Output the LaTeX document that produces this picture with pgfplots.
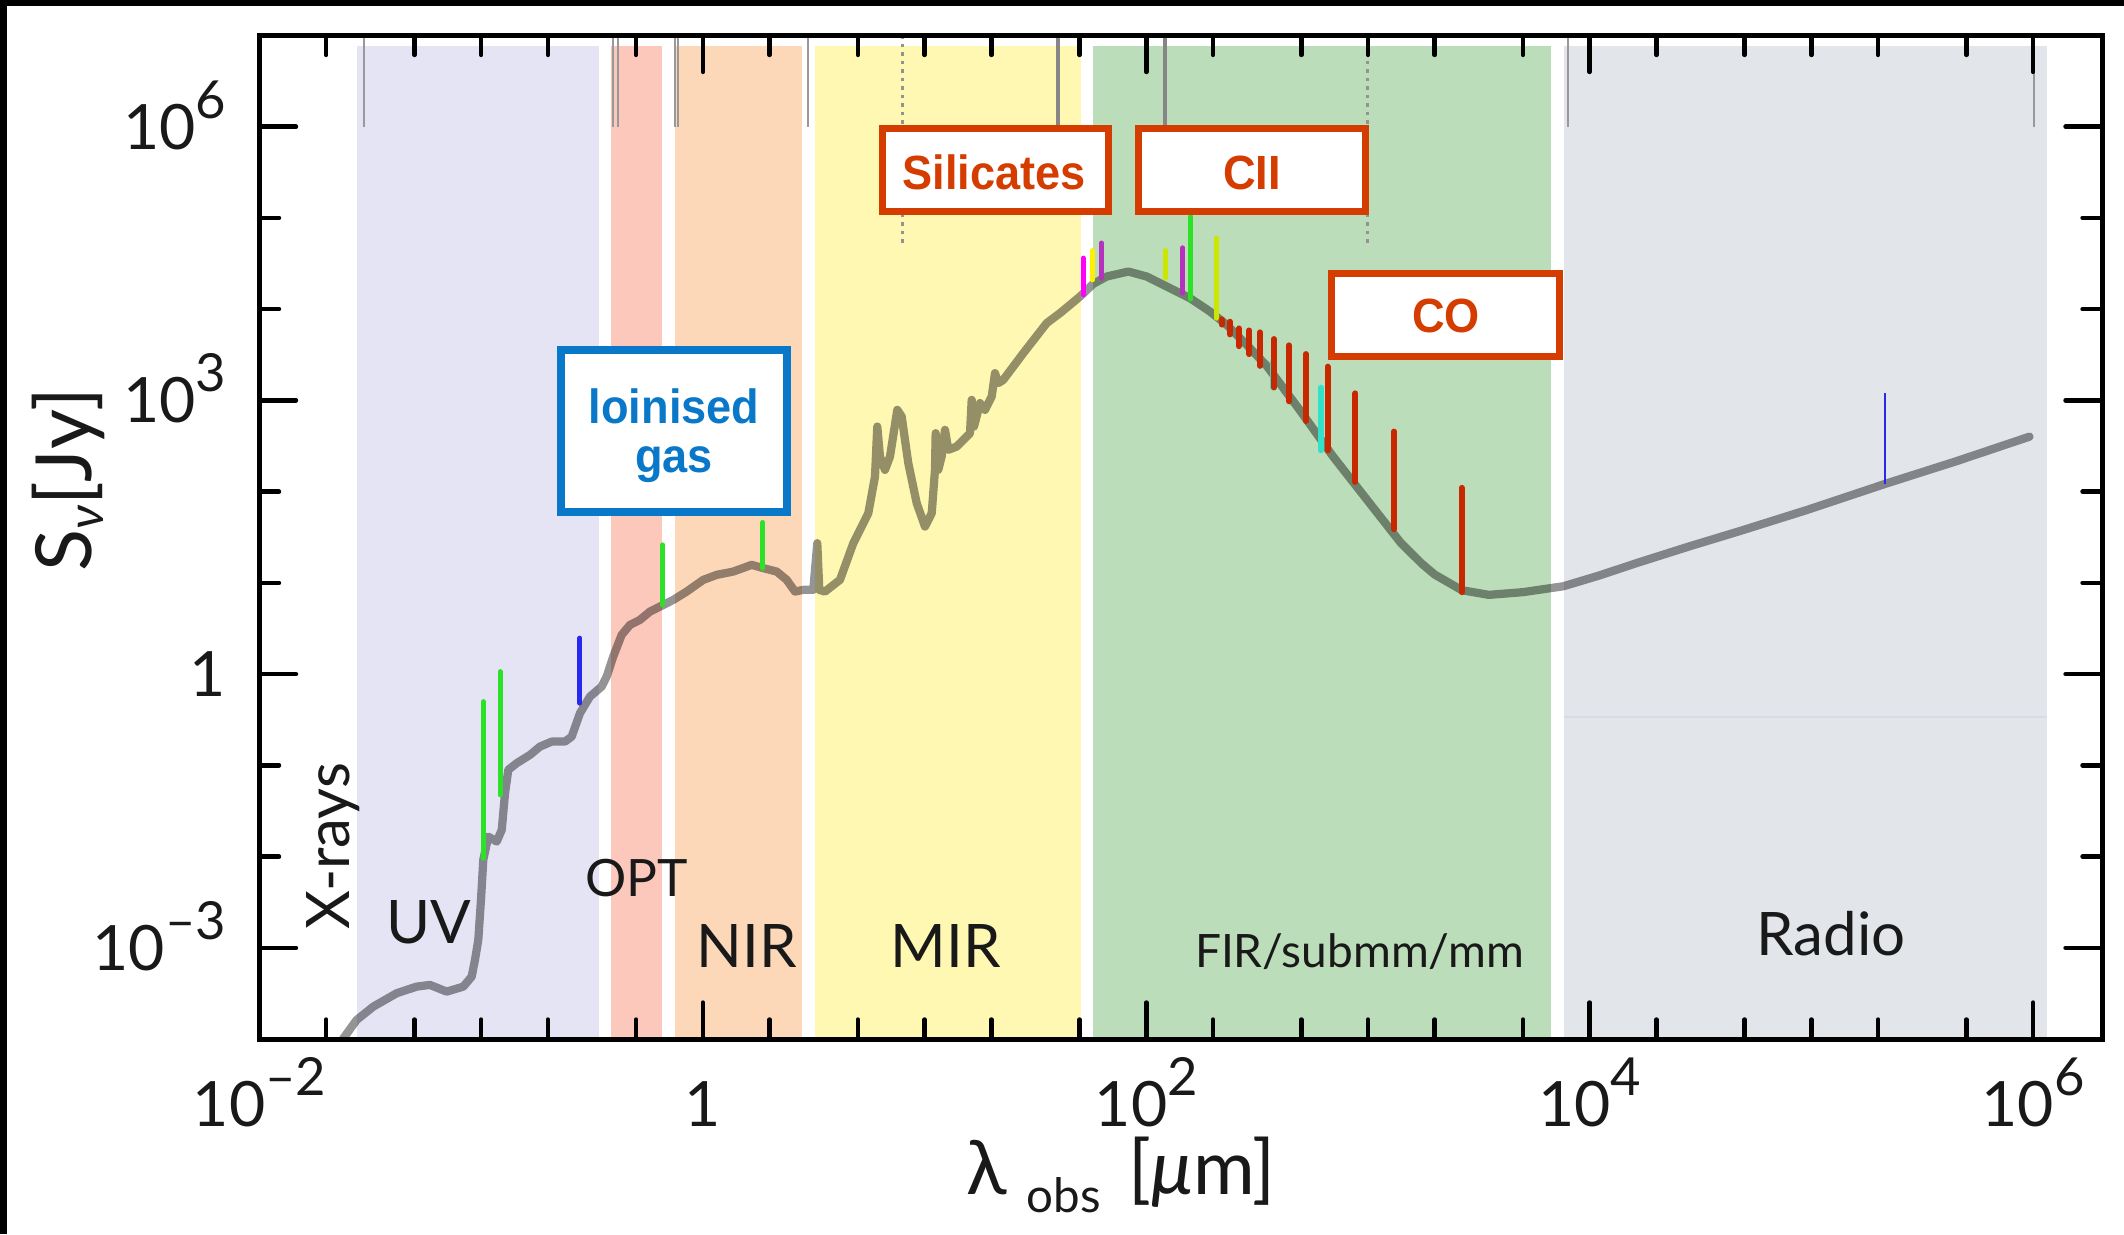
\documentclass[border=0pt]{standalone}
\usepackage{fontspec}
\setmainfont{Lato}
\newfontfamily\boxfont[FakeStretch=0.94]{Liberation Sans}
\usepackage{pgfplots}
\pgfplotsset{compat=1.18}
\definecolor{uvband}{HTML}{E5E4F5}
\definecolor{optband}{HTML}{FCC8BC}
\definecolor{nirband}{HTML}{FDD8B8}
\definecolor{mirband}{HTML}{FFF8B2}
\definecolor{firband}{HTML}{BCDDB9}
\definecolor{radioband}{HTML}{E2E5E9}
\definecolor{boxred}{HTML}{D43C00}
\definecolor{boxblue}{HTML}{0A78C8}
\definecolor{lgreen}{RGB}{45,225,40}
\definecolor{lblue}{RGB}{40,40,240}
\definecolor{lmag}{RGB}{255,0,255}
\definecolor{lyel}{RGB}{255,240,0}
\definecolor{lpur}{RGB}{180,50,190}
\definecolor{lyg}{RGB}{205,230,0}
\definecolor{lred}{RGB}{200,40,0}
\definecolor{lcyan}{RGB}{50,225,200}
\definecolor{txt}{RGB}{25,25,25}
\newcommand{\tsup}[1]{\raisebox{6.2pt}{\fontsize{10.5}{12}\selectfont #1}}
\begin{document}
\begin{tikzpicture}
\path[use as bounding box] (-51.9pt,-39pt) rectangle (372.9pt,207.8pt);
\fill[white] (-51.9pt,-39pt) rectangle (372.9pt,207.8pt);
\fill[black] (-51.9pt,206.6pt) rectangle (372.9pt,207.8pt);
\fill[black] (-51.9pt,-39pt) rectangle (-50.5pt,207.8pt);
\begin{axis}[
  at={(0pt,0pt)}, anchor=south west,
  scale only axis, width=368.5pt, height=200.72pt,
  xmode=log, ymode=log,
  xmin=0.01, xmax=2.046e6, ymin=1e-4, ymax=1e7,
  axis on top,
  unbounded coords=jump,
  axis line style={line width=1pt, black},
  xtick={1e-2,1,1e2,1e4,1e6},
  xticklabels={{10\tsup{–2}},{1},{10\tsup{2}},{10\tsup{4}},{10\tsup{6}}},
  minor xtick={0.02,0.05,0.1,0.2,0.5,2,5,10,20,50,200,500,1000,2000,5000,2e4,5e4,1e5,2e5,5e5},
  ytick={1e-3,1,1e3,1e6},
  yticklabels={{10\tsup{–3}},{1},{10\tsup{3}},{10\tsup{6}}},
  minor ytick={1e-2,1e-1,10,100,1e4,1e5},
  major tick length=7.3pt, minor tick length=3.9pt,
  tick style={line width=0.9pt, black, line cap=round},
  tick label style={font=\fontsize{12.5}{14}\selectfont, text=txt},
  xticklabel style={anchor=base, inner sep=0pt, yshift=-17.4pt},
  yticklabel style={anchor=base east, inner sep=0pt, xshift=-6.5pt, yshift=-4.5pt},
  xlabel={λ\hspace{4pt}\raisebox{-3.6pt}{\fontsize{9.5}{10}\selectfont obs}\hspace{5.6pt}[\textit{μ}m]},
  ylabel={S\raisebox{-2.5pt}{\fontsize{10}{11}\selectfont\itshape ν}[Jy]},
  every axis x label/.style={at={(rel axis cs:0.4676,-0.1554)}, anchor=base, font=\fontsize{15}{17}\selectfont, text=txt},
  every axis y label/.style={at={(rel axis cs:-0.0912,0.557)}, anchor=base, rotate=90, font=\fontsize{15.5}{17}\selectfont, text=txt},
]
% spectral bands
\addplot[fill=uvband, draw=none] coordinates {(0.02761,1e-4) (0.3399,1e-4) (0.3399,7.75e6) (0.02761,7.75e6)} -- cycle;
\addplot[fill=optband, draw=none] coordinates {(0.3831,1e-4) (0.6553,1e-4) (0.6553,7.75e6) (0.3831,7.75e6)} -- cycle;
\addplot[fill=nirband, draw=none] coordinates {(0.7467,1e-4) (2.805,1e-4) (2.805,7.75e6) (0.7467,7.75e6)} -- cycle;
\addplot[fill=mirband, draw=none] coordinates {(3.217,1e-4) (50.85,1e-4) (50.85,7.75e6) (3.217,7.75e6)} -- cycle;
\addplot[fill=firband, draw=none] coordinates {(57.79,1e-4) (6657,1e-4) (6657,7.75e6) (57.79,7.75e6)} -- cycle;
\addplot[fill=radioband, draw=none] coordinates {(7674,1e-4) (1.150e6,1e-4) (1.150e6,7.75e6) (7674,7.75e6)} -- cycle;
\addplot[draw={rgb,255:red,214;green,219;blue,228}, line width=0.3pt] coordinates {(7674,0.3396) (1.150e6,0.3396)};
% grey markers at the top
\addplot[draw=gray!80, line width=0.35pt] coordinates {
 (0.02951,1e7) (0.02951,9.95e5) (nan,nan)
 (0.3947,1e7) (0.3947,9.95e5) (nan,nan)
 (0.4140,1e7) (0.4140,9.95e5) (nan,nan)
 (0.7467,1e7) (0.7467,9.95e5) (nan,nan)
 (0.7695,1e7) (0.7695,9.95e5) (nan,nan)
 (2.979,1e7) (2.979,9.95e5) (nan,nan)
 (7960,1e7) (7960,9.95e5) (nan,nan)
 (1.006e6,1e7) (1.006e6,9.95e5)};
\addplot[draw=gray!95, line width=0.8pt] coordinates {
 (40.11,1e7) (40.11,9.95e5) (nan,nan)
 (121.3,1e7) (121.3,9.95e5)};
\addplot[draw=gray!85, line width=0.6pt, dash pattern=on 0.7pt off 1pt] coordinates {
 (7.963,1e7) (7.963,50660) (nan,nan)
 (996.8,1e7) (996.8,48530)};
% SED
\addplot[draw=black, draw opacity=0.42, line width=1.65pt, line join=round, line cap=round] coordinates {
(0.02259,8.41e-5) (0.02744,1.621e-4) (0.03261,2.266e-4) (0.04158,3.178e-4) (0.05118,3.754e-4) (0.05876,3.919e-4) (0.06991,3.310e-4) (0.08306,3.754e-4) (0.09060,4.832e-4) (0.09376,7.365e-4) (0.09703,1.221e-3) (0.09979,3.348e-3) (0.1022,9.19e-3) (0.1076,0.01655) (0.1175,0.01459) (0.1238,0.01960) (0.1281,0.04949) (0.1325,0.08914) (0.1446,0.1055) (0.1661,0.1301) (0.1842,0.1604) (0.2080,0.1820) (0.2388,0.1820) (0.2560,0.2065) (0.2790,0.3727) (0.3095,0.5667) (0.3495,0.7294) (0.3682,0.9389) (0.3942,1.555) (0.4302,2.690) (0.4690,3.462) (0.5203,3.928) (0.5772,4.843) (0.6629,5.734) (0.7354,6.507) (0.8451,8.024) (1.004,10.78) (1.154,12.23) (1.371,13.29) (1.660,15.74) (1.873,14.48) (2.152,13.29) (2.388,10.78) (2.603,8.024) (2.837,8.376) (3.148,8.376) (3.281,27.21) (3.350,8.376) (3.554,8.024) (4.153,10.78) (4.769,27.21) (5.574,58.03) (5.975,146.2) (6.118,516.4) (6.292,242.2) (6.628,173.1) (6.982,242.2) (7.532,787.1) (7.884,664.6) (8.443,204.9) (9.213,74.70) (10.04,41.39) (10.77,58.03) (11.14,173.1) (11.22,437.1) (11.53,173.1) (11.94,242.2) (12.36,475.0) (12.79,286.8) (13.96,311.6) (16.03,437.1) (16.31,1013) (16.71,516.4) (17.78,932.1) (18.73,787.1) (20.08,1101) (20.78,1988) (21.50,1544) (22.65,1678) (27.88,3292) (35.54,7020) (40.81,9035) (50.23,13740) (57.67,18930) (66.28,22760) (82.96,25820) (100.4,22760) (123.6,17680) (157.4,13190) (193.8,9408) (230.6,6725) (283.8,4060) (349.3,2390) (488.9,801.0) (695.1,243.4) (988.6,81.58) (1406,27.42) (1750,16.2) (1997,12.35) (2647,8.309) (3506,7.382) (4986,7.899) (7609,9.171) (11000,12.0) (16500,16.64) (28000,25.0) (47400,36.85) (95700,63.0) (215300,121.6) (450000,215) (963400,400.1)};
% line markers
\addplot[draw=lgreen, line width=1pt, line cap=round] coordinates {
 (0.1024,9.59e-3) (0.1024,0.4995) (nan,nan)
 (0.1216,0.04742) (0.1216,1.065) (nan,nan)
 (0.6588,5.734) (0.6588,26.08) (nan,nan)
 (1.861,14.48) (1.861,45.88) (nan,nan)
 (158.5,12870) (158.5,103500)};
\addplot[draw=lblue, line width=1pt, line cap=round] coordinates {(0.2790,0.4798) (0.2790,2.475)};
\addplot[draw=lmag, line width=1pt, line cap=round] coordinates {(51.97,14340) (51.97,36210)};
\addplot[draw=lyel, line width=1pt, line cap=round] coordinates {(57.07,20940) (57.07,43860)};
\addplot[draw=lpur, line width=1pt, line cap=round] coordinates {
 (62.92,21860) (62.92,53020) (nan,nan)
 (146.0,14970) (146.0,46960)};
\addplot[draw=lyg, line width=1pt, line cap=round] coordinates {
 (122.7,21860) (122.7,43860) (nan,nan)
 (206.3,7964) (206.3,60000)};
\addplot[draw=lcyan, line width=1.1pt, line cap=round] coordinates {
 (372.9,1385) (372.9,2644) (nan,nan)
 (612.7,282.5) (612.7,1385)};
\addplot[draw=lred, line width=1.2pt, line cap=round] coordinates {
 (218.9,6775) (218.9,7705) (nan,nan)
 (238.5,5290) (238.5,7272) (nan,nan)
 (261.9,3929) (261.9,6141) (nan,nan)
 (291.5,3218) (291.5,5837) (nan,nan)
 (325.8,2390) (325.8,5566) (nan,nan)
 (376.7,1385) (376.7,4699) (nan,nan)
 (440.3,977.7) (440.3,4009) (nan,nan)
 (524.7,594.7) (524.7,3218) (nan,nan)
 (657.3,282.5) (657.3,2342) (nan,nan)
 (877.5,127.5) (877.5,1193) (nan,nan)
 (1310,38.75) (1310,455.1) (nan,nan)
 (2647,7.899) (2647,109.9)};
\addplot[draw=lblue, line width=0.45pt] coordinates {(215300,121.6) (215300,1194)};
% band labels
\begin{scope}[every node/.style={text=txt, inner sep=0pt}]
\node[font=\fontsize{12}{14}\selectfont, anchor=base] at (rel axis cs:0.0917,0.0951) {UV};
\node[font=\fontsize{10.3}{12}\selectfont, anchor=base] at (rel axis cs:0.2049,0.1421) {OPT};
\node[font=\fontsize{12}{14}\selectfont, anchor=base] at (rel axis cs:0.2646,0.0717) {NIR};
\node[font=\fontsize{12}{14}\selectfont, anchor=base] at (rel axis cs:0.3726,0.0717) {MIR};
\node[font=\fontsize{9.2}{11}\selectfont, anchor=base] at (rel axis cs:0.5970,0.0717) {FIR/submm/mm};
\node[font=\fontsize{12}{14}\selectfont, anchor=base] at (rel axis cs:0.8529,0.0837) {Radio};
\node[font=\fontsize{12}{14}\selectfont, anchor=base, rotate=90] at (rel axis cs:0.0486,0.1923) {X-rays};
\end{scope}
% annotation boxes
\draw[draw=boxblue, line width=1.6pt, fill=white] (rel axis cs:0.1636,0.5248) rectangle (rel axis cs:0.2865,0.6862);
\draw[draw=boxred, line width=1.4pt, fill=white] (rel axis cs:0.3379,0.8245) rectangle (rel axis cs:0.4608,0.9072);
\draw[draw=boxred, line width=1.4pt, fill=white] (rel axis cs:0.4770,0.8245) rectangle (rel axis cs:0.6004,0.9072);
\draw[draw=boxred, line width=1.4pt, fill=white] (rel axis cs:0.5820,0.6800) rectangle (rel axis cs:0.7058,0.7632);
\begin{scope}[every node/.style={inner sep=0pt, anchor=base, font=\boxfont\bfseries\fontsize{9.6}{11}\selectfont}]
\node[text=boxblue] at (rel axis cs:0.2250,0.6138) {loinised};
\node[text=boxblue] at (rel axis cs:0.2250,0.5644) {gas};
\node[text=boxred] at (rel axis cs:0.3987,0.8460) {Silicates};
\node[text=boxred] at (rel axis cs:0.5387,0.8460) {CII};
\node[text=boxred] at (rel axis cs:0.6440,0.7040) {CO};
\end{scope}
\end{axis}
\end{tikzpicture}
\end{document}
